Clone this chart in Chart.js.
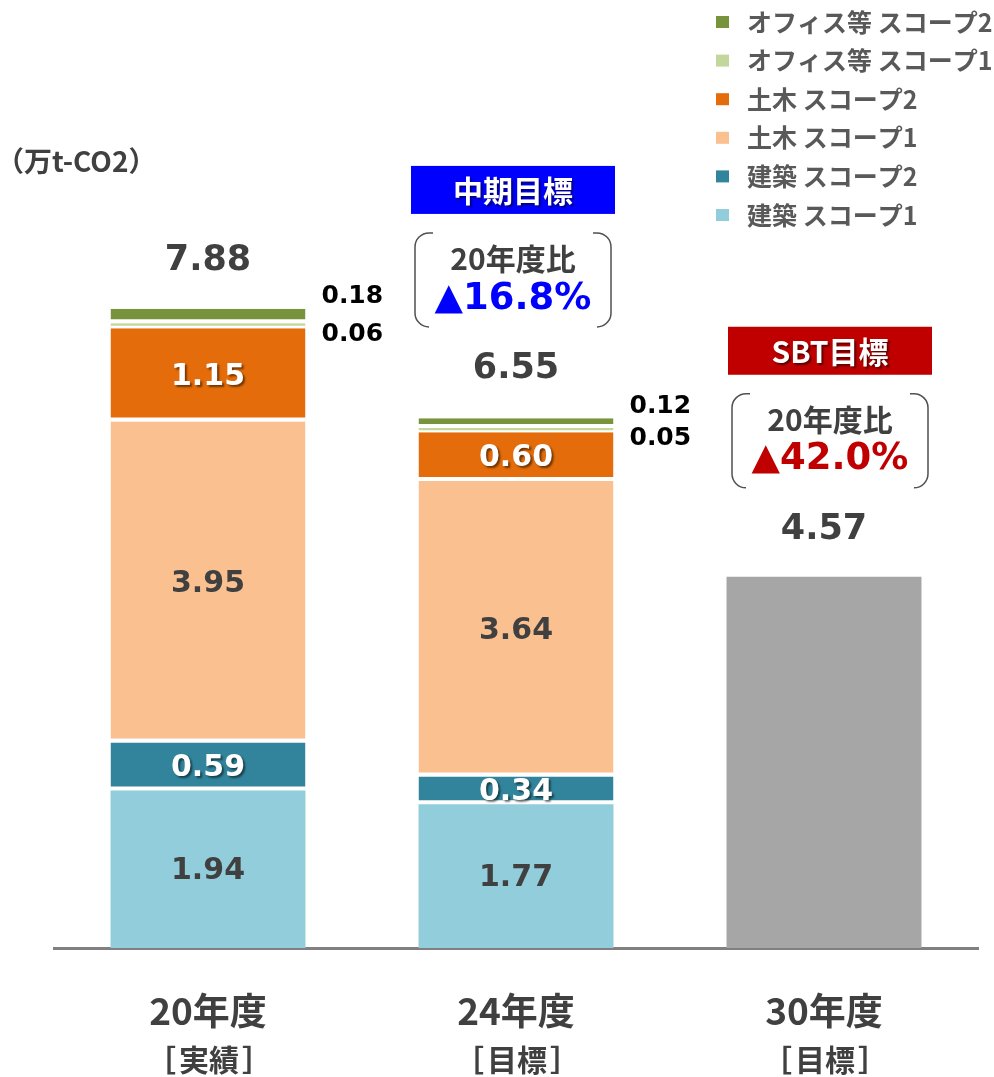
<!DOCTYPE html>
<html lang="ja">
<head>
<meta charset="utf-8">
<title>CO2排出量</title>
<script src="https://cdn.jsdelivr.net/npm/chart.js@4.4.1/dist/chart.umd.min.js"></script>
<style>
  html, body { margin: 0; padding: 0; background: #fff; }
  #wrap { position: relative; width: 994px; height: 1077px; }
</style>
</head>
<body>
<div id="wrap"><canvas id="chart"></canvas></div>
<script>
const years = ['20年度', '24年度', '30年度'];
const yearNotes = ['［実績］', '［目標］', '［目標］'];

const kenchikuScope1 = [1.94, 1.77, null];
const kenchikuScope2 = [0.59, 0.34, null];
const dobokuScope1 = [3.95, 3.64, null];
const dobokuScope2 = [1.15, 0.60, null];
const officeScope1 = [0.06, 0.05, null];
const officeScope2 = [0.18, 0.12, null];
const sbtTotal = [null, null, 4.57];
const totals = [7.88, 6.55, 4.57];

const targetNames = [null, '中期目標', 'SBT目標'];
const targetChanges = [null, '▲16.8%', '▲42.0%'];

const JP = '"Noto Sans CJK JP", sans-serif';
const NUM = '"DejaVu Sans", Verdana, sans-serif';
const DARK = '#404040';

function seg(label, data, color, mode) {
  return {
    label, data, backgroundColor: color, labelMode: mode, inLegend: true,
    borderColor: '#ffffff', borderSkipped: false,
    borderWidth: { top: 0, left: 0, right: 0, bottom: 4 }
  };
}

const datasets = [
  Object.assign(seg('建築 スコープ1', kenchikuScope1, '#92CDDC', 'dark'), { borderWidth: 0 }),
  seg('建築 スコープ2', kenchikuScope2, '#31849B', 'light'),
  seg('土木 スコープ1', dobokuScope1, '#FAC090', 'dark'),
  seg('土木 スコープ2', dobokuScope2, '#E46C0A', 'light'),
  seg('オフィス等 スコープ1', officeScope1, '#C3D69B', 'below'),
  seg('オフィス等 スコープ2', officeScope2, '#77933C', 'above'),
  { label: 'SBT', data: sbtTotal, backgroundColor: '#A6A6A6', borderWidth: 0, labelMode: 'none', inLegend: false }
];

function shadowOn(ctx) {
  ctx.shadowColor = 'rgba(0,0,0,0.5)';
  ctx.shadowOffsetX = 2;
  ctx.shadowOffsetY = 2;
  ctx.shadowBlur = 2;
}
function shadowOff(ctx) {
  ctx.shadowColor = 'transparent';
  ctx.shadowOffsetX = 0;
  ctx.shadowOffsetY = 0;
  ctx.shadowBlur = 0;
}

// half-open bracket box: ( ... )
function bracketBox(ctx, x0, y0, x1, y1) {
  const r = 14, stub = 18;
  ctx.beginPath();
  ctx.moveTo(x0 + stub, y0);
  ctx.arcTo(x0, y0, x0, y0 + r, r);
  ctx.lineTo(x0, y1 - r);
  ctx.arcTo(x0, y1, x0 + stub, y1, r);
  ctx.moveTo(x1 - stub, y0);
  ctx.arcTo(x1, y0, x1, y0 + r, r);
  ctx.lineTo(x1, y1 - r);
  ctx.arcTo(x1, y1, x1 - stub, y1, r);
  ctx.stroke();
}

const labelPlugin = {
  id: 'valueLabels',
  afterDatasetsDraw(chart) {
    const { ctx, scales: { x, y } } = chart;
    ctx.save();
    ctx.textBaseline = 'middle';

    chart.data.datasets.forEach((ds, i) => {
      const meta = chart.getDatasetMeta(i);
      meta.data.forEach((bar, j) => {
        const v = ds.data[j];
        if (v == null || ds.labelMode === 'none') return;
        const txt = v.toFixed(2);
        const right = bar.x + bar.width / 2 + 16;
        if (ds.labelMode === 'dark' || ds.labelMode === 'light') {
          ctx.font = 'bold 30px ' + NUM;
          ctx.textAlign = 'center';
          if (ds.labelMode === 'light') { shadowOn(ctx); ctx.fillStyle = '#ffffff'; }
          else { shadowOff(ctx); ctx.fillStyle = DARK; }
          ctx.fillText(txt, bar.x, (bar.y + bar.base) / 2 + 2);
          shadowOff(ctx);
        } else if (ds.labelMode === 'below') {
          ctx.font = 'bold 25px ' + NUM;
          ctx.textAlign = 'left';
          ctx.fillStyle = '#000000';
          ctx.fillText(txt, right, bar.base + 6);
        } else if (ds.labelMode === 'above') {
          ctx.font = 'bold 25px ' + NUM;
          ctx.textAlign = 'left';
          ctx.fillStyle = '#000000';
          ctx.fillText(txt, right, bar.y - 12);
        }
      });
    });

    // totals and target callouts
    totals.forEach((t, j) => {
      const bx = x.getPixelForValue(j);
      const top = y.getPixelForValue(t);
      ctx.textAlign = 'center';
      ctx.font = 'bold 35px ' + NUM;
      ctx.fillStyle = DARK;
      ctx.fillText(t.toFixed(2), bx, top - 47);

      if (!targetNames[j]) return;
      const cx = bx + (j === 2 ? 6 : -3);
      const boxColor = j === 1 ? '#0000FF' : '#C00000';
      ctx.fillStyle = boxColor;
      ctx.fillRect(cx - 102, top - 250, 204, 48);
      shadowOn(ctx);
      ctx.fillStyle = '#ffffff';
      ctx.font = 'bold 30px ' + JP;
      ctx.fillText(targetNames[j], cx, top - 225);
      shadowOff(ctx);

      ctx.strokeStyle = '#505050';
      ctx.lineWidth = 1.5;
      bracketBox(ctx, cx - 98, top - 183, cx + 98, top - 89);

      ctx.fillStyle = DARK;
      ctx.font = 'bold 30px ' + JP;
      ctx.fillText('20年度比', cx, top - 157);
      ctx.fillStyle = boxColor;
      ctx.font = 'bold 37px ' + NUM;
      ctx.fillText(targetChanges[j], cx, top - 117);
    });
    ctx.restore();
  },
  afterDraw(chart) {
    const { ctx, chartArea, scales: { x } } = chart;
    ctx.save();
    ctx.textBaseline = 'middle';
    ctx.fillStyle = DARK;
    ctx.font = 'bold 30px ' + JP;
    // second line under each year: bracket, word, bracket with a little air
    yearNotes.forEach((n, j) => {
      const cx = x.getPixelForValue(j) + 1;
      const yy = chartArea.bottom + 112;
      const word = n.slice(1, -1);
      const w = ctx.measureText(word).width;
      ctx.textAlign = 'center';
      ctx.fillText(word, cx, yy);
      ctx.textAlign = 'right';
      ctx.fillText(n[0], cx - w / 2 - 3, yy);
      ctx.textAlign = 'left';
      ctx.fillText(n[n.length - 1], cx + w / 2 + 3, yy);
    });

    // unit
    ctx.textAlign = 'left';
    ctx.font = 'bold 28px ' + JP;
    ctx.fillText('（万t-CO2）', -4, 161);

    // legend, top item = last series
    const items = chart.data.datasets.filter(d => d.inLegend).reverse();
    ctx.font = 'bold 25px ' + JP;
    items.forEach((d, k) => {
      const cy = 22 + k * 38.6;
      ctx.fillStyle = d.backgroundColor;
      ctx.fillRect(716, cy - 6, 13, 12);
      ctx.fillStyle = '#595959';
      ctx.fillText(d.label, 747, cy);
    });
    ctx.restore();
  }
};

new Chart(document.getElementById('chart'), {
  type: 'bar',
  data: { labels: years, datasets },
  options: {
    responsive: true,
    maintainAspectRatio: false,
    animation: false,
    layout: { padding: { top: 0, left: 54, right: 16, bottom: 2.6 } },
    datasets: { bar: { barPercentage: 0.633, categoryPercentage: 1 } },
    plugins: { legend: { display: false }, tooltip: { enabled: false } },
    scales: {
      x: {
        stacked: true,
        z: 1,
        grid: { display: false, drawTicks: false },
        border: { display: true, color: '#808080', width: 3 },
        ticks: { padding: 41, color: DARK, font: { family: JP, size: 37, weight: 'bold', lineHeight: 1.2 } }
      },
      y: { stacked: true, display: false, min: 0, max: 11.67 }
    }
  },
  plugins: [labelPlugin]
});
</script>
</body>
</html>
